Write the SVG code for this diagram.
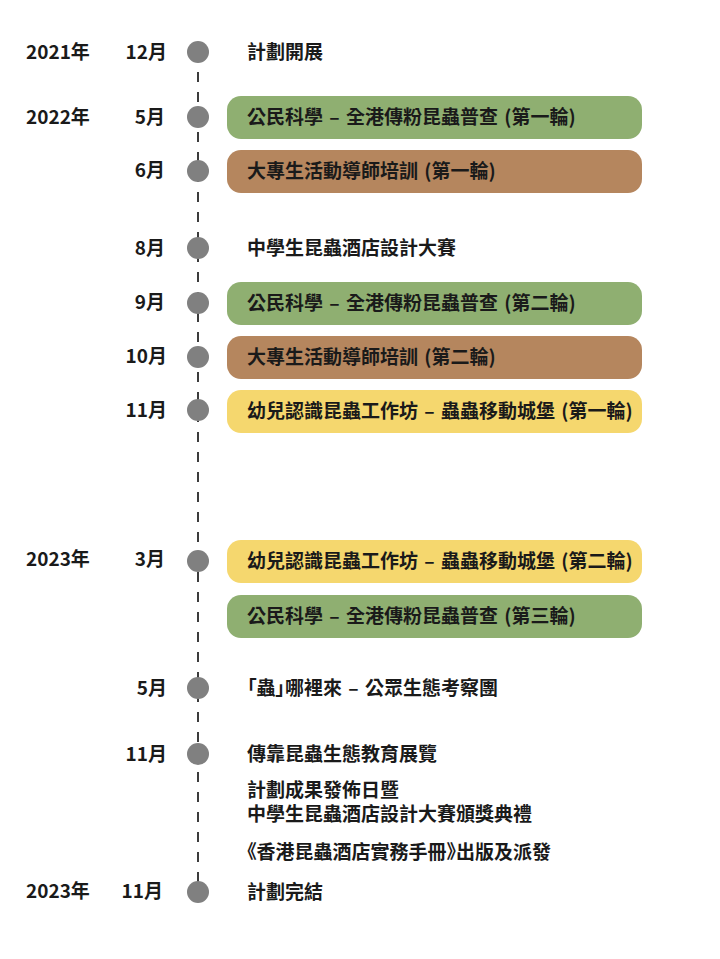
<svg xmlns="http://www.w3.org/2000/svg" width="720" height="959" viewBox="0 0 720 959">
<style>
text{font-family:"Noto Sans CJK TC","Noto Sans CJK SC",sans-serif;font-weight:bold;font-size:19px;fill:#1a1a1a;word-spacing:2px}
.m{text-anchor:end}
.p{font-feature-settings:"palt" 1}
.dot{fill:#808080}
.g{fill:#8faf71}
.b{fill:#b5865e}
.y{fill:#f5d76e}
</style>
<rect width="720" height="959" fill="#ffffff"/>
<g id="connectors">
<line x1="198" y1="72" x2="198" y2="884" stroke="#3c3c3c" stroke-width="2" stroke-dasharray="10 10"/>
</g>
<g id="n2021-12"><circle class="dot" cx="198" cy="52" r="11"/><text x="26" y="59">2021年</text><text class="m" x="167" y="59">12月</text><text x="247" y="59">計劃開展</text></g>
<g id="n2022-5"><circle class="dot" cx="198" cy="117" r="11"/><text x="26" y="124">2022年</text><text class="m" x="165" y="124">5月</text><rect class="g" x="227" y="96" width="415" height="43" rx="14"/><text x="247" y="124">公民科學 – 全港傳粉昆蟲普查 (第一輪)</text></g>
<g id="n2022-6"><circle class="dot" cx="198" cy="171" r="11"/><text class="m" x="165" y="177">6月</text><rect class="b" x="227" y="150" width="415" height="43" rx="14"/><text x="247" y="178">大專生活動導師培訓 (第一輪)</text></g>
<g id="n2022-8"><circle class="dot" cx="198" cy="248" r="11"/><text class="m" x="165" y="255">8月</text><text x="247" y="255">中學生昆蟲酒店設計大賽</text></g>
<g id="n2022-9"><circle class="dot" cx="198" cy="303" r="11"/><text class="m" x="165" y="309">9月</text><rect class="g" x="227" y="282" width="415" height="43" rx="14"/><text x="247" y="310">公民科學 – 全港傳粉昆蟲普查 (第二輪)</text></g>
<g id="n2022-10"><circle class="dot" cx="198" cy="357" r="11"/><text class="m" x="167" y="363">10月</text><rect class="b" x="227" y="336" width="415" height="43" rx="14"/><text x="247" y="364">大專生活動導師培訓 (第二輪)</text></g>
<g id="n2022-11"><circle class="dot" cx="198" cy="410" r="11"/><text class="m" x="167" y="417">11月</text><rect class="y" x="227" y="390" width="415" height="43" rx="14"/><text x="247" y="418">幼兒認識昆蟲工作坊 – 蟲蟲移動城堡 (第一輪)</text></g>
<g id="n2023-3"><circle class="dot" cx="198" cy="561" r="11"/><text x="26" y="566">2023年</text><text class="m" x="165" y="566">3月</text><rect class="y" x="227" y="540" width="415" height="43" rx="14"/><text x="247" y="568">幼兒認識昆蟲工作坊 – 蟲蟲移動城堡 (第二輪)</text></g>
<g id="n2023-3b"><rect class="g" x="227" y="595" width="415" height="43" rx="14"/><text x="247" y="623">公民科學 – 全港傳粉昆蟲普查 (第三輪)</text></g>
<g id="n2023-5"><circle class="dot" cx="198" cy="688" r="11"/><text class="m" x="167" y="695">5月</text><text x="247" y="695"><tspan class="p">「</tspan>蟲<tspan class="p">」</tspan>哪裡來 – 公眾生態考察團</text></g>
<g id="n2023-11"><circle class="dot" cx="198" cy="754" r="11"/><text class="m" x="167" y="761">11月</text><text x="247" y="761">傳靠昆蟲生態教育展覽</text></g>
<g id="n2023-11b"><text x="247" y="797">計劃成果發佈日暨</text><text x="247" y="821">中學生昆蟲酒店設計大賽頒獎典禮</text></g>
<g id="n2023-11c"><text x="247" y="859"><tspan class="p">《</tspan>香港昆蟲酒店實務手冊<tspan class="p">》</tspan>出版及派發</text></g>
<g id="n2023-end"><circle class="dot" cx="198" cy="892" r="11"/><text x="26" y="898">2023年</text><text class="m" x="163" y="898">11月</text><text x="247" y="899">計劃完結</text></g>
</svg>
